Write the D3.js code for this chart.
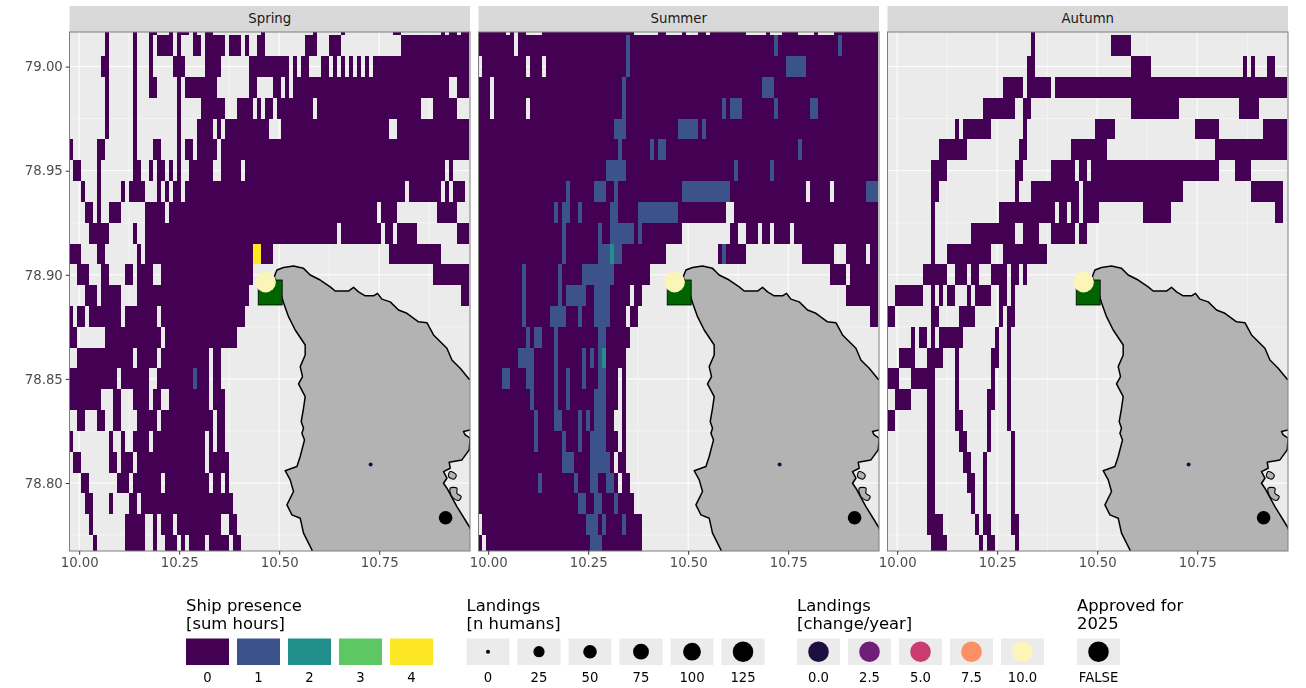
<!DOCTYPE html>
<html><head><meta charset="utf-8">
<script src="https://cdn.jsdelivr.net/npm/d3@7"></script>
<style>html,body{margin:0;padding:0;background:#fff}svg{display:block;filter:blur(0.35px)}text{font-family:"DejaVu Sans",sans-serif}</style>
</head><body><svg id="c" width="1306" height="688"></svg>
<script>
// Row latitudes of the 0.01 degree raster (index = row); cell columns are hundredths of a degree east of 10.00
const cellLats = [79.02,79.01,79.00,78.99,78.98,78.97,78.96,78.95,78.94,78.93,78.92,78.91,78.90,78.89,78.88,78.87,78.86,78.85,78.84,78.83,78.82,78.81,78.80,78.79,78.78,78.77];
const seasons = ["Spring","Summer","Autumn"];
const springRuns = [
[[7,7],[14,14],[18,19],[23,23],[25,27],[29,29],[32,33],[46,46],[59,59],[66,66],[79,80],[91,91],[93,94],[96,97]],
[[7,7],[14,14],[18,18],[20,23],[25,25],[29,30],[32,36],[38,40],[42,42],[45,46],[57,59],[63,65],[81,97]],
[[6,7],[14,14],[18,18],[24,26],[32,35],[43,52],[54,54],[56,57],[61,62],[64,64],[66,66],[68,68],[70,70],[72,72],[74,97]],
[[7,7],[14,14],[18,19],[25,25],[27,34],[43,44],[49,50],[52,52],[54,92],[95,97]],
[[7,7],[14,14],[25,25],[31,36],[40,43],[45,45],[47,48],[50,58],[60,85],[89,94]],
[[7,7],[14,14],[25,25],[30,33],[35,35],[37,47],[51,77],[80,97]],
[[-2,-2],[5,6],[14,14],[19,20],[25,25],[27,28],[30,34],[36,97]],
[[-1,0],[5,5],[14,15],[18,18],[20,21],[23,23],[25,25],[28,33],[36,40],[42,91],[93,93]],
[[1,1],[5,5],[11,11],[13,16],[20,20],[22,22],[24,25],[27,81],[83,90],[92,92],[94,96]],
[[2,3],[5,5],[8,10],[17,21],[23,74],[76,79],[90,94]],
[[3,7],[14,14],[17,64],[66,75],[77,78],[80,84],[95,97]],
[[-2,0],[5,6],[15,15],[17,43],[46,48],[78,90]],
[[0,2],[6,7],[12,13],[15,18],[21,43],[89,97]],
[[2,4],[6,10],[15,42],[96,97]],
[[-2,-2],[0,1],[3,10],[12,19],[21,41]],
[[-2,-1],[7,20],[22,39]],
[[0,13],[15,19],[21,32],[34,35]],
[[-2,9],[11,17],[20,32],[34,35]],
[[-2,5],[9,10],[14,17],[19,20],[23,32],[34,36]],
[[0,1],[5,6],[9,10],[15,19],[21,33],[35,36]],
[[-2,-2],[8,8],[11,11],[14,17],[19,31],[33,33],[35,36]],
[[-1,0],[8,9],[11,13],[15,31],[33,37]],
[[1,2],[10,12],[14,20],[22,32],[34,35],[37,37]],
[[2,3],[8,8],[13,14],[16,38]],
[[3,3],[12,16],[19,19],[21,23],[25,35],[38,39]],
[[4,4],[12,16],[19,19],[22,24],[26,26],[28,31],[33,37],[39,40]]
];
// [row, first column, last column, hours]
const springHours = [[11,44,45,4],[17,29,29,1]];
const summerRuns = [
[[-2,4],[6,6],[8,9],[14,36],[43,44],[49,49],[53,54],[56,64],[70,70],[74,77],[82,82],[87,97]],
[[-2,6],[8,97]],
[[-1,9],[11,13],[15,97]],
[[-2,0],[2,97]],
[[-2,0],[2,9],[11,97]],
[[-2,97]],
[[-2,97]],
[[-2,97]],
[[-2,79],[81,85],[87,97]],
[[-2,59],[62,97]],
[[-2,48],[61,62],[65,67],[69,70],[72,75],[77,97]],
[[-2,44],[58,64],[79,86],[90,94],[96,97]],
[[-2,40],[86,89],[91,97]],
[[-2,35],[37,38],[90,97]],
[[-2,34],[36,37],[96,97]],
[[-2,35]],
[[-2,34]],
[[-2,32],[34,34]],
[[-2,32],[34,34]],
[[-2,31],[34,34]],
[[-2,32],[34,34]],
[[-2,31],[33,34]],
[[-2,32],[34,35]],
[[-2,36]],
[[-1,38]],
[[-2,-2],[0,38]]
];
const summerHours = [
[1,35,35,1],[1,72,72,1],[1,88,88,1],[2,35,35,1],[2,75,79,1],[3,34,34,1],[3,69,71,1],
[4,34,34,1],[4,59,59,1],[4,61,63,1],[4,72,72,1],[4,81,82,1],[5,32,34,1],[5,48,52,1],[5,54,54,1],
[6,33,33,1],[6,41,41,1],[6,43,44,1],[6,78,78,1],[7,30,34,1],[7,62,62,1],[7,71,71,1],
[8,20,20,1],[8,27,29,1],[8,32,32,1],[8,49,60,1],[8,95,97,1],
[9,17,17,1],[9,19,20,1],[9,23,23,1],[9,31,32,1],[9,38,47,1],
[10,19,19,1],[10,28,28,1],[10,31,36,1],[10,38,38,1],
[11,19,19,1],[11,28,30,1],[11,31,31,2],[11,32,33,1],[11,59,59,1],
[12,9,9,1],[12,18,18,1],[12,24,31,1],[13,9,9,1],[13,18,18,1],[13,20,24,1],[13,27,30,1],
[14,9,9,1],[14,16,19,1],[14,23,23,1],[14,27,30,1],[15,10,10,1],[15,12,13,1],[15,17,17,1],[15,28,29,1],
[16,8,11,1],[16,17,17,1],[16,24,24,1],[16,26,26,1],[16,28,28,1],[16,29,29,2],
[17,4,5,1],[17,10,11,1],[17,17,17,1],[17,20,20,1],[17,24,24,1],[17,28,29,1],
[18,11,11,1],[18,17,17,1],[18,20,20,1],[18,27,29,1],
[19,12,12,1],[19,17,18,1],[19,23,23,1],[19,25,25,1],[19,27,29,1],
[20,12,12,1],[20,19,19,1],[20,23,23,1],[20,26,29,1],
[21,19,21,1],[21,26,30,1],[22,13,13,1],[22,22,22,1],[22,26,27,1],[22,30,31,1],
[23,23,24,1],[23,27,28,1],[23,32,32,1],[24,25,27,1],[24,29,29,1],[24,34,34,1],[25,26,28,1]
];
const autumnRuns = [
[[34,34]],
[[34,34],[54,58]],
[[33,34],[59,63],[87,87],[89,89],[93,94]],
[[27,31],[33,38],[40,97]],
[[22,29],[32,33],[59,70],[86,90]],
[[15,15],[17,23],[32,32],[50,54],[75,80],[92,97]],
[[11,17],[31,32],[44,52],[80,97]],
[[9,12],[30,31],[39,44],[46,47],[49,80],[85,88]],
[[9,10],[30,30],[34,45],[47,71],[89,96]],
[[9,9],[26,39],[41,42],[44,45],[47,50],[62,68],[95,96]],
[[9,9],[19,29],[32,35],[39,44],[46,47]],
[[9,9],[13,23],[27,37]],
[[7,12],[15,17],[19,20],[24,27],[29,30],[32,32]],
[[0,6],[9,9],[11,11],[13,14],[18,18],[20,23],[26,27],[29,29]],
[[-2,-1],[9,10],[16,19],[26,26],[28,29]],
[[4,4],[6,7],[9,9],[11,16],[25,25],[28,28]],
[[1,4],[8,11],[15,15],[24,25],[28,28]],
[[-2,0],[4,9],[15,15],[24,24],[28,28]],
[[0,3],[8,9],[15,15],[23,24],[28,28]],
[[-2,-1],[8,9],[15,16],[23,23],[28,28]],
[[8,9],[16,17],[23,23],[29,29]],
[[8,9],[17,18],[22,22],[29,29]],
[[8,9],[18,19],[22,22],[29,29]],
[[8,9],[19,19],[22,22],[29,29]],
[[8,11],[20,20],[22,23],[29,30]],
[[9,12],[21,21],[23,24],[30,30]]
];
const autumnHours = [];
const coastLon = [10.4875,10.4943,10.5108,10.5358,10.5608,10.5775,10.6025,10.6275,10.64,10.6733,10.6858,10.6983,10.715,10.7358,10.7458,10.7568,10.7775,10.7983,10.8193,10.8483,10.8693,10.8858,10.9193,10.9318,10.9525,10.975,11.01,11.01,10.9775,10.9608,10.965,10.9775,10.975,10.9568,10.925,10.9275,10.9108,10.9193,10.9108,10.9193,10.9443,10.975,11.0025,11.01,10.6,10.5818,10.5608,10.5525,10.5318,10.5193,10.5358,10.5275,10.515,10.5443,10.5525,10.5633,10.5568,10.5608,10.555,10.5608,10.565,10.5483,10.5583,10.5525,10.565,10.565,10.54,10.5233,10.5108,10.5025];
const coastLat = [78.8990,78.9023,78.9035,78.9042,78.9031,78.8999,78.8975,78.8942,78.8922,78.8922,78.8940,78.8918,78.8899,78.8899,78.8911,78.8883,78.8870,78.8831,78.8815,78.8774,78.8770,78.8711,78.8647,78.8591,78.8551,78.8498,78.8498,78.8255,78.8255,78.8247,78.8231,78.8215,78.8159,78.8111,78.8100,78.8071,78.8055,78.8023,78.7999,78.7975,78.7887,78.7791,78.7679,78.75,78.75,78.7679,78.7759,78.7831,78.7847,78.7895,78.7959,78.8015,78.8059,78.8079,78.8127,78.8207,78.8239,78.8263,78.8295,78.8359,78.8415,78.8476,78.8511,78.8559,78.8615,78.8663,78.8735,78.8799,78.8866,78.8917];
const isletALon = [10.9275,10.9425,10.9375,10.9233];
const isletALat = [78.8055,78.8039,78.8019,78.8031];
const isletBLon = [10.9275,10.9443,10.9443,10.955,10.9483,10.9318];
const isletBLat = [78.7975,78.7975,78.7951,78.7935,78.7916,78.7935];
// Approved area (rectangle corners) and landing sites: lon, lat, humans, change/year
const approvedLon = [10.4475,10.5075];
const approvedLat = [78.8975,78.8855];
const siteLon = [10.466,10.7285,10.916];
const siteLat = [78.8965,78.8089,78.7833];
const siteHumans = [125,0,50];
const siteChange = [10,0,null];
// Legends
const xTicks = [10,10.25,10.5,10.75];
const yTicks = [79,78.95,78.9,78.85,78.8];
const xMinor = [10.125,10.375,10.625,10.875];
const yMinor = [78.975,78.925,78.875,78.825,78.775];
const hoursLegend = [0,1,2,3,4];
const humansLegend = [0,25,50,75,100,125];
const changeLegend = [0,2.5,5,7.5,10];
const changeLabels = ["0.0","2.5","5.0","7.5","10.0"];
const viridis = ["#440154","#3b528b","#21908c","#5dc863","#fde725"];
const magma = ["#1d1040","#6f1f78","#c93c70","#fc8f64","#fcf5b8"];

const svg = d3.select("#c");
const pw = 400.5, ph = 519, panelTop = 32;
const panelX = [69.5,478.5,887.5];
const x = d3.scaleLinear().domain([9.97575,10.977]).range([0,pw]);
const y = d3.scaleLinear().domain([79.01662,78.76734]).range([0,ph]);
const hoursColor = d3.scaleOrdinal().domain(hoursLegend).range(viridis);
const changeColor = d3.scaleLinear().domain(changeLegend).range(magma);
const radius = d3.scaleLinear().domain([0,25,50,75,100,125]).range([2,5.6,6.8,7.9,8.9,10.3]);
const cellEdge = c => x(10 + (c-0.5)/100);
const defs = svg.append("defs");
defs.append("clipPath").attr("id","pc").append("rect").attr("width",pw).attr("height",ph);
const pts = (lo,la) => lo.map((d,i)=>[x(d),y(la[i])]);

const allRuns = [springRuns,summerRuns,autumnRuns];
const allHours = [springHours,summerHours,autumnHours];
seasons.forEach((season,i)=>{
  const g = svg.append("g").attr("transform",`translate(${panelX[i]},${panelTop})`);
  g.append("rect").attr("x",0).attr("y",-26).attr("width",pw).attr("height",26).attr("fill","#d9d9d9");
  g.append("text").attr("x",pw/2).attr("y",-8.8).attr("text-anchor","middle").attr("font-size",13.3).attr("fill","#1a1a1a").text(season);
  g.append("rect").attr("width",pw).attr("height",ph).attr("fill","#ebebeb");
  const p = g.append("g").attr("clip-path","url(#pc)");
  p.selectAll(".gmx").data(xMinor).join("line").attr("x1",d=>x(d)).attr("x2",d=>x(d)).attr("y1",0).attr("y2",ph).attr("stroke","#fff").attr("stroke-width",.5);
  p.selectAll(".gmy").data(yMinor).join("line").attr("y1",d=>y(d)).attr("y2",d=>y(d)).attr("x1",0).attr("x2",pw).attr("stroke","#fff").attr("stroke-width",.5);
  p.selectAll(".gx").data(xTicks).join("line").attr("x1",d=>x(d)).attr("x2",d=>x(d)).attr("y1",0).attr("y2",ph).attr("stroke","#fff").attr("stroke-width",1);
  p.selectAll(".gy").data(yTicks).join("line").attr("y1",d=>y(d)).attr("y2",d=>y(d)).attr("x1",0).attr("x2",pw).attr("stroke","#fff").attr("stroke-width",1);
  const rects = [];
  allRuns[i].forEach((runs,r)=>runs.forEach(([a,b])=>rects.push({r,a,b,v:0})));
  allHours[i].forEach(([r,a,b,v])=>rects.push({r,a,b,v}));
  p.selectAll(".cell").data(rects).join("rect")
    .attr("shape-rendering","crispEdges")
    .attr("x",d=>cellEdge(d.a)).attr("width",d=>cellEdge(d.b+1)-cellEdge(d.a))
    .attr("y",d=>y(cellLats[d.r]+0.005)).attr("height",d=>y(cellLats[d.r]-0.005)-y(cellLats[d.r]+0.005))
    .attr("fill",d=>hoursColor(d.v));
  const land = "M"+pts(coastLon,coastLat).join("L")+"Z";
  p.append("path").attr("d",land).attr("fill","#b3b3b3").attr("stroke","#000").attr("stroke-width",1.5).attr("stroke-linejoin","round");
  [[isletALon,isletALat],[isletBLon,isletBLat]].forEach(([lo,la])=>
    p.append("path").attr("d",d3.line().curve(d3.curveCatmullRomClosed)(pts(lo,la))).attr("fill","#b3b3b3").attr("stroke","#000").attr("stroke-width",1.1));
  p.append("rect").attr("x",x(approvedLon[0])).attr("y",y(approvedLat[0])).attr("width",x(approvedLon[1])-x(approvedLon[0])).attr("height",y(approvedLat[1])-y(approvedLat[0])).attr("fill","#006400").attr("stroke","#000").attr("stroke-width",.8);
  siteLon.forEach((lo,k)=>{
    p.append("circle").attr("cx",x(lo)).attr("cy",y(siteLat[k])).attr("r",radius(siteHumans[k]))
      .attr("fill",siteChange[k]===null?"#000":changeColor(siteChange[k]));
  });
  g.append("rect").attr("width",pw).attr("height",ph).attr("fill","none").attr("stroke","#7f7f7f").attr("stroke-width",1);
  const ax = g.append("g").attr("transform",`translate(0,${ph})`).call(d3.axisBottom(x).tickValues(xTicks).tickFormat(d3.format(".2f")).tickSize(3.7).tickPadding(3));
  ax.select(".domain").remove();
  ax.selectAll("line").attr("stroke","#333");
  ax.selectAll("text").attr("fill","#4d4d4d").attr("font-size",13.3).attr("font-family","DejaVu Sans");
  if(i===0){
    const ay = g.append("g").call(d3.axisLeft(y).tickValues(yTicks).tickFormat(d3.format(".2f")).tickSize(3.7).tickPadding(3));
    ay.select(".domain").remove();
    ay.selectAll("line").attr("stroke","#333");
    ay.selectAll("text").attr("fill","#4d4d4d").attr("font-size",13.3).attr("font-family","DejaVu Sans");
  }
});

function legend(x0,titles,keys,labels,draw){
  const g = svg.append("g");
  titles.forEach((t,i)=>g.append("text").attr("x",x0).attr("y",610.5+i*18.2).attr("font-size",16.4).attr("fill","#000").text(t));
  keys.forEach((k,i)=>{
    const kx = x0+i*51;
    draw(g,k,kx,i);
    g.append("text").attr("x",kx+21.5).attr("y",681.5).attr("text-anchor","middle").attr("font-size",13.2).attr("fill","#000").text(labels[i]);
  });
}
const keyBg=(g,kx)=>g.append("rect").attr("x",kx).attr("y",638.5).attr("width",43).attr("height",26.5).attr("fill","#ebebeb");
legend(186,["Ship presence","[sum hours]"],hoursLegend,hoursLegend.map(String),(g,k,kx)=>g.append("rect").attr("x",kx).attr("y",638.5).attr("width",43).attr("height",26.5).attr("fill",hoursColor(k)));
legend(466.5,["Landings","[n humans]"],humansLegend,humansLegend.map(String),(g,k,kx)=>{keyBg(g,kx);g.append("circle").attr("cx",kx+21.5).attr("cy",651.7).attr("r",radius(k)).attr("fill","#000");});
legend(797,["Landings","[change/year]"],changeLegend,changeLabels,(g,k,kx)=>{keyBg(g,kx);g.append("circle").attr("cx",kx+21.5).attr("cy",651.7).attr("r",10.3).attr("fill",changeColor(k));});
legend(1077,["Approved for","2025"],["FALSE"],["FALSE"],(g,k,kx)=>{keyBg(g,kx);g.append("circle").attr("cx",kx+21.5).attr("cy",651.7).attr("r",10.3).attr("fill","#000");});
</script></body></html>
